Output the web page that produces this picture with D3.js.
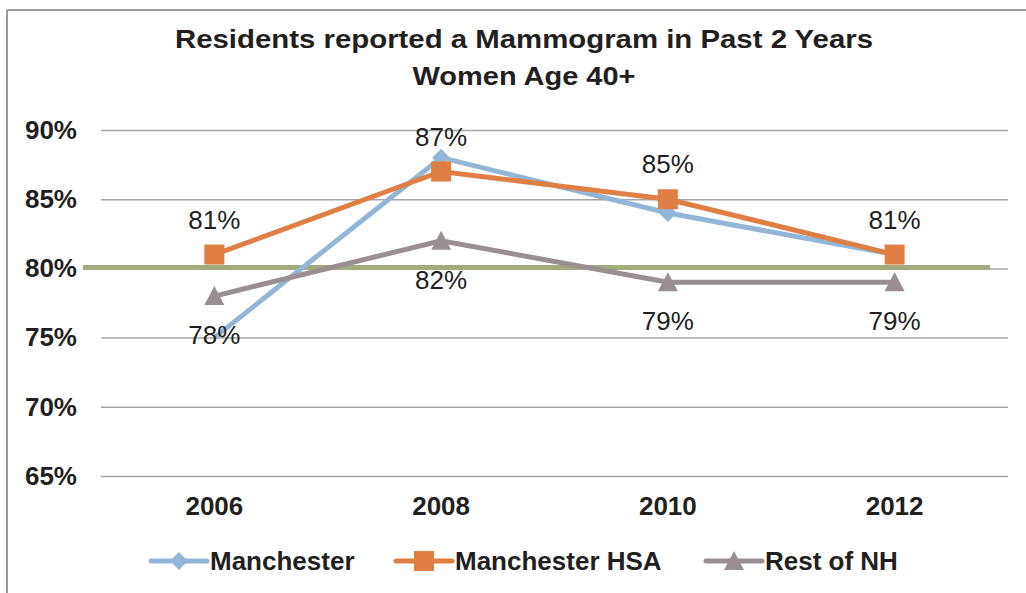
<!DOCTYPE html>
<html>
<head>
<meta charset="utf-8">
<script src="https://cdn.jsdelivr.net/npm/d3@7"></script>
<style>
  body { margin: 0; background: #fff; }
  text { font-family: "Liberation Sans", Arial, sans-serif; fill: #231f20; }
</style>
</head>
<body>
<div id="chart"></div>
<script>
// chart data
var years = ["2006", "2008", "2010", "2012"];
var manchester = [75, 88, 84, 81];
var manchesterHSA = [81, 87, 85, 81];
var restOfNH = [78, 82, 79, 79];
var target = 80;
var yTicks = [65, 70, 75, 80, 85, 90];
var seriesNames = ["Manchester", "Manchester HSA", "Rest of NH"];
var titleLines = ["Residents reported a Mammogram in Past 2 Years", "Women Age 40+"];
var manchesterMarkers = [false, true, true, true];

var W = 1026, H = 593;
var margin = { top: 130, right: 18, bottom: 117, left: 101 },
    width = W - margin.left - margin.right,
    height = H - margin.top - margin.bottom;

var colors = { blue: "#93b6d6", orange: "#e07f44", gray: "#998f90", green: "#a2ab7f" };

var svg = d3.select("#chart")
    .append("svg")
    .attr("width", W)
    .attr("height", H);

// outer frame (only top and left edges are visible)
svg.append("line").attr("x1", 7).attr("x2", W).attr("y1", 10).attr("y2", 10)
    .attr("stroke", "#9a9a9a").attr("stroke-width", 2);
svg.append("line").attr("x1", 7).attr("x2", 7).attr("y1", 10).attr("y2", H)
    .attr("stroke", "#9a9a9a").attr("stroke-width", 2);

// title (the original is stretched sideways, so force the widths)
var titleWidths = [698, 223];
titleLines.forEach(function(t, i) {
    svg.append("text")
        .attr("x", 524 - titleWidths[i] / 2)
        .attr("y", 48 + i * 37)
        .attr("textLength", titleWidths[i])
        .attr("lengthAdjust", "spacingAndGlyphs")
        .style("font-weight", "bold")
        .style("font-size", "25px")
        .text(t);
});

var g = svg.append("g")
    .attr("transform", "translate(" + margin.left + "," + margin.top + ")");

var x = d3.scaleBand().domain(years).range([0, width]);
var y = d3.scaleLinear().domain([65, 90]).range([height, 0]);
var cx = function(d, i) { return x(years[i]) + x.bandwidth() / 2; };

// gridlines + y labels
var yAxis = g.append("g")
    .call(d3.axisLeft(y).tickValues(yTicks).tickSize(-width).tickPadding(24)
        .tickFormat(function(d) { return d + "%"; }));
yAxis.select(".domain").remove();
yAxis.selectAll(".tick line").attr("stroke", "#a3a6a9").attr("stroke-width", 1.5);
yAxis.selectAll(".tick text")
    .style("font-size", "26px").style("font-weight", "bold")
    .attr("fill", "#231f20");

// x labels
var xAxis = g.append("g")
    .attr("transform", "translate(0," + height + ")")
    .call(d3.axisBottom(x).tickSize(0).tickPadding(21));
xAxis.select(".domain").remove();
xAxis.selectAll(".tick text")
    .style("font-size", "26px").style("font-weight", "bold")
    .attr("fill", "#231f20");

var diamond = "M0,-9L9,0L0,9L-9,0Z";
var square = "M-10,-10H10V10H-10Z";
var triangle = "M0,-10L10,9L-10,9Z";

var line = d3.line().x(cx).y(function(d) { return y(d); });

// target line at 80%
g.append("line")
    .attr("x1", -18).attr("x2", width - 18)
    .attr("y1", y(target) - 1).attr("y2", y(target) - 1)
    .attr("stroke", colors.green).attr("stroke-width", 5);

// markers placed by index
function drawMarkers(values, color, shape, show) {
    values.forEach(function(v, i) {
        if (show && !show[i]) return;
        g.append("path").attr("d", shape).attr("fill", color)
            .attr("transform", "translate(" + cx(v, i) + "," + y(v) + ")");
    });
}

function drawLine(values, color) {
    g.append("path")
        .datum(values)
        .attr("d", line)
        .attr("fill", "none")
        .attr("stroke", color)
        .attr("stroke-width", 5);
}

drawLine(manchester, colors.blue);
drawMarkers(manchester, colors.blue, diamond, manchesterMarkers);
drawLine(restOfNH, colors.gray);
drawMarkers(restOfNH, colors.gray, triangle);
drawLine(manchesterHSA, colors.orange);
drawMarkers(manchesterHSA, colors.orange, square);

// data labels
g.selectAll(".lblHSA")
    .data(manchesterHSA)
    .enter()
    .append("text")
    .attr("text-anchor", "middle")
    .style("font-size", "26px")
    .attr("x", cx)
    .attr("y", function(d) { return y(d) - 26; })
    .text(function(d) { return d + "%"; });

g.selectAll(".lblRest")
    .data(restOfNH)
    .enter()
    .append("text")
    .attr("text-anchor", "middle")
    .style("font-size", "26px")
    .attr("x", cx)
    .attr("y", function(d) { return y(d) + 48; })
    .text(function(d) { return d + "%"; });

// legend
var legend = [
    { name: seriesNames[0], color: colors.blue, shape: diamond, x: 151 },
    { name: seriesNames[1], color: colors.orange, shape: square, x: 396 },
    { name: seriesNames[2], color: colors.gray, shape: triangle, x: 706 }
];
var lg = svg.append("g").attr("transform", "translate(0,561)");
legend.forEach(function(d) {
    lg.append("line").attr("x1", d.x).attr("x2", d.x + 56).attr("y1", 0).attr("y2", 0)
        .attr("stroke", d.color).attr("stroke-width", 5).attr("stroke-linecap", "round");
    lg.append("path").attr("d", d.shape).attr("fill", d.color)
        .attr("transform", "translate(" + (d.x + 28) + ",0)");
    lg.append("text").attr("x", d.x + 59).attr("y", 9)
        .style("font-size", "26px").style("font-weight", "bold")
        .text(d.name);
});
</script>
</body>
</html>
